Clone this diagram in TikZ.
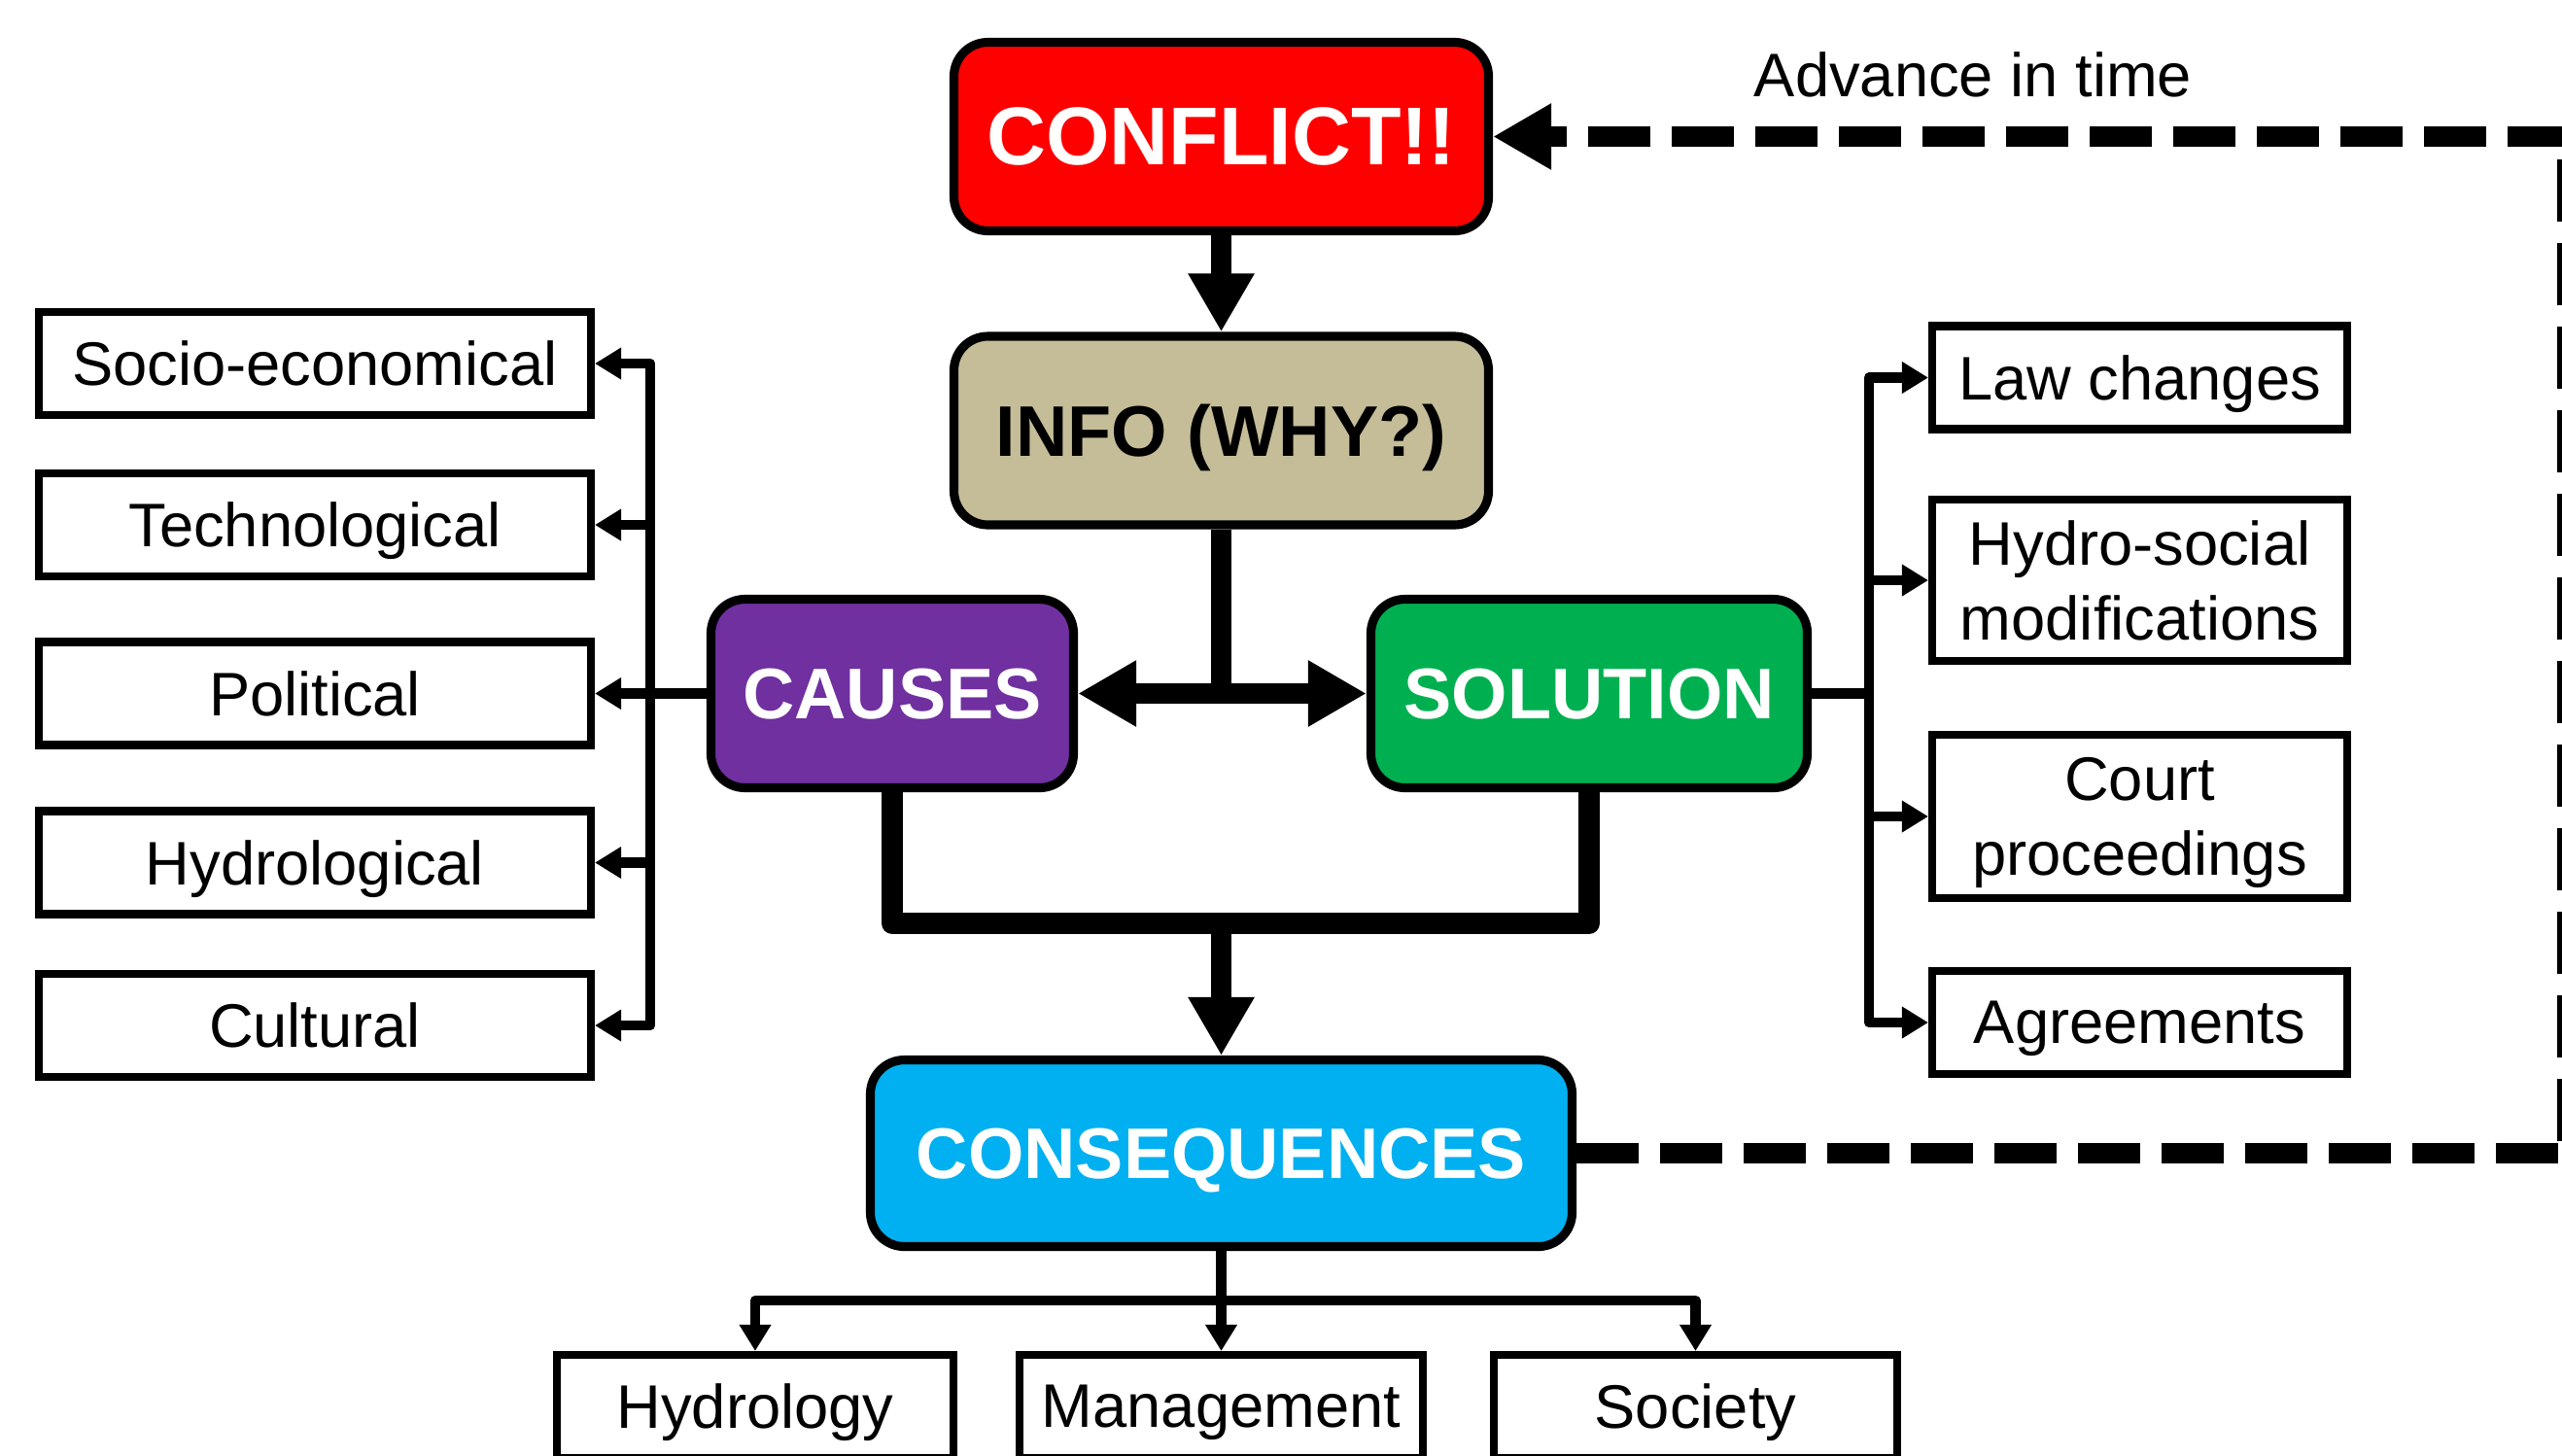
\documentclass[tikz,border=0pt]{standalone}
\usepackage{fontspec}
\setmainfont{Liberation Sans}
\usetikzlibrary{positioning,arrows.meta,calc}
\definecolor{cfred}{HTML}{FF0000}
\definecolor{cfinfo}{HTML}{C4BD97}
\definecolor{cfcause}{HTML}{7030A0}
\definecolor{cfsol}{HTML}{00B050}
\definecolor{cfcons}{HTML}{00B0F0}

\begin{document}
\begin{tikzpicture}[
  font=\fontsize{18}{22}\selectfont,
  stage/.style={draw, line width=2.6pt, rounded corners=0.35cm, minimum height=1.94cm,
                text=white, text depth=0pt, font=\fontsize{21}{25}\selectfont\bfseries},
  item/.style={draw, line width=2.3pt, minimum height=1.06cm, align=center, inner sep=2pt,
               text depth=0pt},
  lbox/.style={item, minimum width=5.68cm},
  rbox/.style={item, minimum width=4.27cm},
  bbox/.style={item, minimum width=4.15cm},
  thickln/.style={line width=6.2pt, line join=round},
  thinln/.style={line width=3pt, line join=round},
  dashln/.style={line width=6pt, dash pattern=on 0.64cm off 0.22cm},
  bigtip/.style={-{Triangle[length=0.6cm,width=0.64cm]}},
  bigtips/.style={{Triangle[length=0.6cm,width=0.64cm]}-{Triangle[length=0.6cm,width=0.64cm]}},
  smtip/.style={-{Triangle[length=0.27cm,width=0.31cm]}},
  smtips/.style={{Triangle[length=0.27cm,width=0.31cm]}-{Triangle[length=0.27cm,width=0.31cm]}},
]
  \useasboundingbox (0,0) rectangle (26.36,-14.97);

  % ---- main stages ----------------------------------------------------------
  \node[stage, fill=cfred, minimum width=5.50cm, font=\fontsize{24}{28}\selectfont\bfseries]
    (conflict) at (12.565,-1.405) {CONFLICT!!};
  \node[stage, fill=cfinfo, text=black, minimum width=5.50cm] (info) at (12.565,-4.43) {INFO (WHY?)};
  \node[stage, fill=cfcause, minimum width=3.73cm] (causes) at (9.18,-7.135) {CAUSES};
  \node[stage, fill=cfsol, minimum width=4.49cm] (solution) at (16.35,-7.135) {SOLUTION};
  \node[stage, fill=cfcons, minimum width=7.22cm, minimum height=1.92cm] (cons) at (12.565,-11.865) {CONSEQUENCES};

  \node (advance) at (20.30,-0.77) {Advance in time};

  % ---- causes ---------------------------------------------------------------
  \node[lbox] (socio) at (3.24,-3.74) {Socio-economical};
  \node[lbox] (techno) at (3.24,-5.40) {Technological};
  \node[lbox] (polit) at (3.24,-7.135) {Political};
  \node[lbox] (hydrol) at (3.24,-8.875) {Hydrological};
  \node[lbox] (cult) at (3.24,-10.55) {Cultural};

  % ---- solutions ------------------------------------------------------------
  \node[rbox] (law) at (22.015,-3.885) {Law changes};
  \node[rbox, minimum height=1.66cm] (hsoc) at (22.015,-5.97) {Hydro-social\\modifications};
  \node[rbox, minimum height=1.68cm] (court) at (22.015,-8.40) {Court\\proceedings};
  \node[rbox] (agree) at (22.015,-10.52) {Agreements};

  % ---- consequences ---------------------------------------------------------
  \node[bbox, minimum width=4.08cm] (hydro) at (7.77,-14.47) {Hydrology};
  \node[bbox] (manage) at (12.565,-14.47) {Management};
  \node[bbox] (society) at (17.445,-14.47) {Society};

  % ---- thick flow -----------------------------------------------------------
  \coordinate (split) at (info.south |- causes.east);
  \coordinate (join) at (12.565,-9.50);
  \draw[thickln, bigtip] (conflict) -- (info);
  \draw[thickln] (info.south) -- (split);
  \draw[thickln, bigtips] (causes.east) -- (solution.west);
  \draw[thickln] (causes.south) |- (join) -| (solution.south);
  \draw[thickln, bigtip] (join) -- (cons.north);

  % ---- branches -------------------------------------------------------------
  \coordinate (ltrunk) at (6.69,0);
  \coordinate (rtrunk) at (19.23,0);
  \coordinate (bbar) at (12.565,-13.38);
  \draw[thinln] (causes.west) -- (causes.west -| ltrunk);
  \draw[thinln, smtips] (socio.east) -| (ltrunk |- cult.east) -- (cult.east);
  \foreach \n in {techno,polit,hydrol}
    \draw[thinln, smtip] (ltrunk |- \n.east) -- (\n.east);
  \draw[thinln] (solution.east) -- (solution.east -| rtrunk);
  \draw[thinln, smtips] (law.west) -| (rtrunk |- agree.west) -- (agree.west);
  \foreach \n in {hsoc,court}
    \draw[thinln, smtip] (rtrunk |- \n.west) -- (\n.west);
  \draw[thinln, smtips] (hydro.north) |- (bbar) -| (society.north);
  \draw[thinln, smtip] (cons.south) -- (manage.north);

  % ---- feedback loop --------------------------------------------------------
  \coordinate (rcorner) at (26.42,0);
  \draw[dashln, bigtip] (cons.east) -- (cons.east -| rcorner) |- (conflict.east);
\end{tikzpicture}
\end{document}
